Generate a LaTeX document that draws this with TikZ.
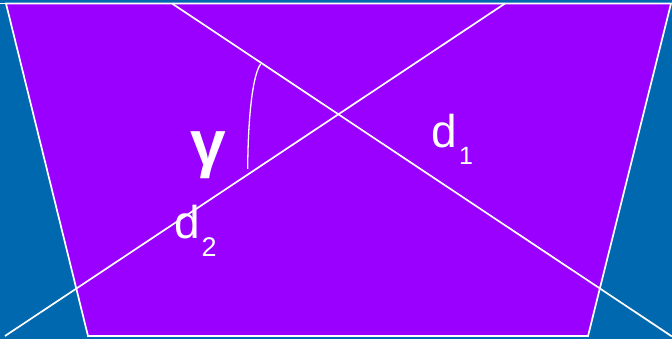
\documentclass[tikz,border=0pt]{standalone}
\usepackage{fontspec}
\setmainfont{Liberation Sans}
\definecolor{bgblue}{RGB}{0,104,174}
\definecolor{trapviolet}{RGB}{153,0,255}
\tikzset{
  wline/.style={draw=white,line width=1.7pt},
  arcline/.style={draw=white,line width=1.3pt},
  lbl/.style={text=white,inner sep=0pt,anchor=base west},
}
\begin{document}
\begin{tikzpicture}[x=1pt,y=-1pt]
\fill[bgblue] (0,0) rectangle (672,339);
\useasboundingbox (0,0) rectangle (672,339);
% trapezoid
\coordinate (TL) at (6,3.5);
\coordinate (TR) at (671,3.5);
\coordinate (BR) at (588,336);
\coordinate (BL) at (88,336);
\filldraw[fill=trapviolet,wline,line join=miter] (TL) -- (TR) -- (BR) -- (BL) -- cycle;
\draw[wline] (0,3.5) -- (TL) (TR) -- (672,3.5);
% diagonals
\coordinate (d1a) at (172,3.5);
\coordinate (d1b) at (672,336.5);
\coordinate (d2a) at (505,3.5);
\coordinate (d2b) at (5,336);
\draw[wline] (d1a) -- (d1b);
\draw[wline] (d2a) -- (d2b);
% angle arc
\coordinate (arcA) at (260.7,64);
\coordinate (arcB) at (247.7,169);
\draw[arcline] (arcA) .. controls (253,74) and (248,115) .. (arcB);
% labels
\node[text=white,inner sep=0pt] (gam) at (208.5,155) {\fontsize{64}{64}\selectfont\bfseries γ};
\node[lbl] (d1) at (431,147.5) {\fontsize{46}{46}\selectfont d};
\node[lbl] (s1) at (459,164.3) {\fontsize{25}{25}\selectfont 1};
\node[lbl] (d2) at (174.7,238.3) {\fontsize{46}{46}\selectfont d};
\node[lbl] (s2) at (201.5,256) {\fontsize{27}{27}\selectfont 2};
\end{tikzpicture}
\end{document}
